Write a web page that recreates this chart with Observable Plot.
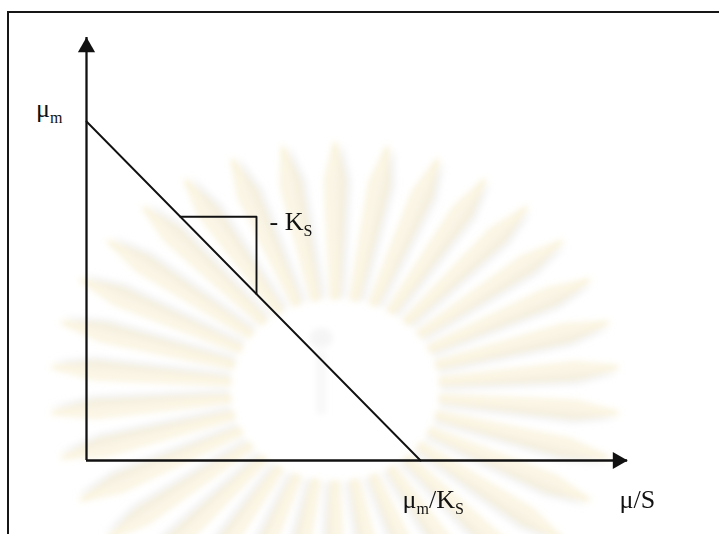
<!DOCTYPE html>
<html>
<head>
<meta charset="utf-8">
<script src="https://cdn.jsdelivr.net/npm/d3@7"></script>
<script src="https://cdn.jsdelivr.net/npm/@observablehq/plot@0.6"></script>
<style>
  html, body { margin: 0; padding: 0; background: #fff; }
  #stage { position: relative; width: 719px; height: 534px; overflow: hidden; }
  #stage > svg { position: absolute; left: 0; top: 0; }
  #frame {
    position: absolute; left: 7px; top: 11px; width: 900px; height: 900px;
    border-left: 2px solid #161616; border-top: 2px solid #161616;
  }
</style>
</head>
<body>
<div id="stage"><div id="frame"></div></div>
<script>
// Eadie–Hofstee form of the Monod equation: μ = μm − Ks·(μ/S)
// Values are in units where the intercepts are 1.
const muMax = 1;              // y-intercept (μm)
const muMaxOverKs = 1;        // x-intercept (μm/Ks)
const axisXEnd = 1.62;        // μ/S axis runs from 0 to its arrow tip
const axisYEnd = 1.248;       // μ axis runs from 0 to its arrow tip
const slopeRun = [0.281, 0.509]; // horizontal extent of the slope triangle

// Axis titles and annotations ("_x" marks a subscript)
const labelYIntercept = "μ_m";
const labelXIntercept = "μ_m/K_S";
const labelSlope = "- K_S";
const labelXAxis = "μ/S";

const slope = -muMax / muMaxOverKs;
const lineAt = (x) => muMax + slope * x;

const regression = [
  {x: 0, y: muMax},
  {x: muMaxOverKs, y: 0}
];
const triangle = [
  {x: slopeRun[0], y: lineAt(slopeRun[0])},
  {x: slopeRun[1], y: lineAt(slopeRun[0])},
  {x: slopeRun[1], y: lineAt(slopeRun[1])}
];

const INK = "#111";
const FONT = "'Liberation Serif', 'Times New Roman', serif";
const MAIN = 26, SUB = 16, SHIFT = 6;

const svg = Plot.plot({
  width: 719,
  height: 534,
  margin: 0,
  x: {domain: [-86 / 334, 633 / 334], axis: null},
  y: {domain: [-74 / 339, 460 / 339], axis: null},
  style: {fontFamily: FONT, fontSize: MAIN + "px", color: INK, background: "#fff"},
  marks: [
    // axes
    Plot.ruleY([0], {x1: 0, x2: axisXEnd, stroke: INK, strokeWidth: 2.3}),
    Plot.ruleX([0], {y1: 0, y2: axisYEnd, stroke: INK, strokeWidth: 2.3}),
    Plot.dot([{x: axisXEnd, y: 0}], {x: "x", y: "y", symbol: "triangle", r: 6.4, fill: INK, stroke: "none", rotate: 90, dx: -9.8}),
    Plot.dot([{x: 0, y: axisYEnd}], {x: "x", y: "y", symbol: "triangle", r: 6.4, fill: INK, stroke: "none", dy: 9.8}),
    // straight line μ vs μ/S
    Plot.line(regression, {x: "x", y: "y", stroke: INK, strokeWidth: 1.9}),
    // slope triangle
    Plot.line(triangle, {x: "x", y: "y", stroke: INK, strokeWidth: 1.9, curve: "linear"}),
    // labels
    Plot.text([{x: 0, y: muMax, t: labelYIntercept}], {x: "x", y: "y", text: "t", textAnchor: "end", lineAnchor: "bottom", dx: -24, dy: -5, fill: INK}),
    Plot.text([{x: slopeRun[1], y: lineAt(slopeRun[0]), t: labelSlope}], {x: "x", y: "y", text: "t", textAnchor: "start", lineAnchor: "bottom", dx: 13, dy: 13, fill: INK}),
    Plot.text([{x: muMaxOverKs, y: 0, t: labelXIntercept}], {x: "x", y: "y", text: "t", textAnchor: "start", lineAnchor: "bottom", dx: -18, dy: 47, fill: INK}),
    Plot.text([{x: axisXEnd, y: 0, t: labelXAxis}], {x: "x", y: "y", text: "t", textAnchor: "start", lineAnchor: "bottom", dx: -8, dy: 47, fill: INK})
  ]
});

// Turn "_x" into lowered, smaller tspans
d3.select(svg).selectAll("text").each(function () {
  const s = this.textContent;
  if (!s.includes("_")) return;
  const parts = s.split(/(_[A-Za-zμ])/).filter((p) => p);
  this.textContent = "";
  let low = false;
  for (const p of parts) {
    const sub = p.startsWith("_");
    const t = d3.select(this).append("tspan").text(sub ? p.slice(1) : p);
    if (sub) {
      t.attr("font-size", SUB);
      if (!low) t.attr("dy", SHIFT);
      low = true;
    } else if (low) {
      t.attr("dy", -SHIFT);
      low = false;
    }
  }
});

// Faint sunburst emblem printed behind the diagram
(function emblem() {
  const root = d3.select(svg);
  const g = root.insert("g", ":first-child");
  const defs = root.insert("defs", ":first-child");
  defs.append("filter").attr("id", "emblem-soft")
    .attr("x", "-30%").attr("y", "-30%").attr("width", "160%").attr("height", "160%")
    .append("feGaussianBlur").attr("stdDeviation", 3);
  g.attr("transform", "translate(335,390) scale(1.15,1)").attr("filter", "url(#emblem-soft)");
  const ray = d3.line()([[-3, -92], [-8, -210], [0, -248], [8, -210], [3, -92]]) + "Z";
  const n = 34;
  for (let i = 0; i < n; i++) {
    const a = (i * 360) / n;
    g.append("path").attr("d", ray).attr("transform", `rotate(${a}) translate(7,0)`)
      .attr("fill", "#dedede").attr("opacity", 0.3);
    g.append("path").attr("d", ray).attr("transform", `rotate(${a})`)
      .attr("fill", "#f9f1d6").attr("stroke", "#f1df9f").attr("stroke-width", 2).attr("opacity", 0.55);
  }
  g.append("circle").attr("cx", -12).attr("cy", -52).attr("r", 10).attr("fill", "#e8e8e8").attr("opacity", 0.45);
  g.append("rect").attr("x", -16).attr("y", -38).attr("width", 8).attr("height", 62).attr("fill", "#eeeeee").attr("opacity", 0.45);
})();

document.getElementById("stage").insertBefore(svg, document.getElementById("frame"));
</script>
</body>
</html>
